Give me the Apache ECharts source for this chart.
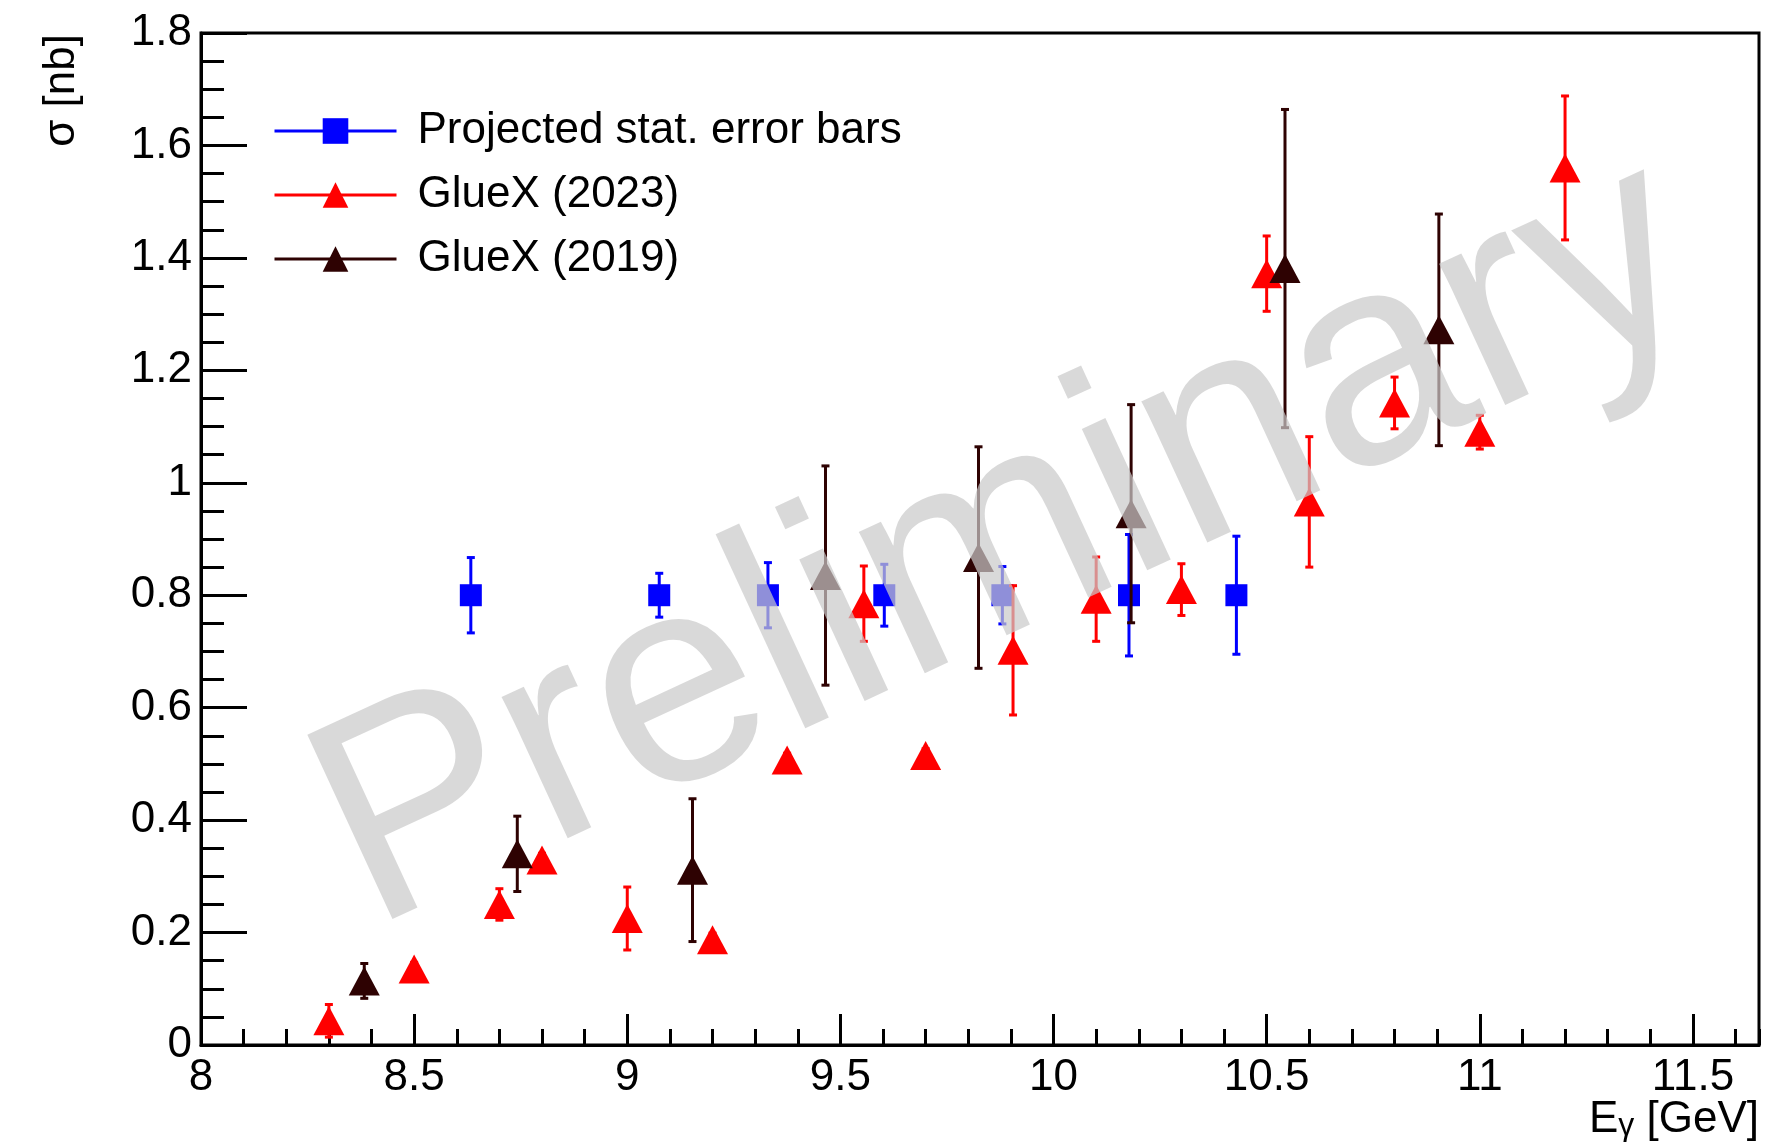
<!DOCTYPE html>
<html>
<head>
<meta charset="utf-8">
<script src="https://cdn.jsdelivr.net/npm/echarts@6/dist/echarts.min.js"></script>
<style>
html,body{margin:0;padding:0;background:#fff;}
#c{width:1773px;height:1148px;}
</style>
</head>
<body>
<div id="c"></div>
<script>
// ---- Data ----
const projX   = [8.633, 9.075, 9.33, 9.603, 9.88, 10.177, 10.429];
const projY   = [0.8, 0.8, 0.8, 0.8, 0.8, 0.8, 0.8];
const projErr = [0.067, 0.039, 0.058, 0.055, 0.051, 0.108, 0.105];

const g23X   = [8.3, 8.5, 8.7, 8.8, 9.0, 9.2, 9.375, 9.555, 9.7, 9.905, 10.1, 10.3, 10.5, 10.6, 10.8, 11.0, 11.2];
const g23Y   = [0.043, 0.135, 0.25, 0.329, 0.225, 0.187, 0.507, 0.785, 0.515, 0.702, 0.793, 0.81, 1.372, 0.966, 1.142, 1.09, 1.56];
const g23Err = [0.029, 0.012, 0.028, 0.012, 0.056, 0.012, 0.012, 0.067, 0.012, 0.115, 0.075, 0.046, 0.067, 0.116, 0.046, 0.03, 0.128];

const g19X   = [8.383, 8.742, 9.153, 9.465, 9.824, 10.182, 10.543, 10.904];
const g19Y   = [0.114, 0.34, 0.311, 0.835, 0.867, 0.945, 1.381, 1.272];
const g19Err = [0.031, 0.067, 0.127, 0.195, 0.197, 0.194, 0.283, 0.206];

const seriesNames = ['Projected stat. error bars', 'GlueX (2023)', 'GlueX (2019)'];
const xTitle = 'E';
const xTitleSub = 'γ';
const xTitleUnit = ' [GeV]';
const yTitle = 'σ [nb]';
const watermark = 'Preliminary';

// ---- Build ----
const FONT = '"Liberation Sans", Arial, Helvetica, sans-serif';
const BLUE = '#0000ff', RED = '#ff0000', BROWN = '#2e0202';

function pts(xs, ys) { return xs.map((x, i) => [x, ys[i]]); }
function errs(xs, ys, es) { return xs.map((x, i) => [x, ys[i] - es[i], ys[i] + es[i]]); }

function errRender(color, cap, lw) {
  return function (params, api) {
    const x = api.value(0), lo = api.value(1), hi = api.value(2);
    const a = api.coord([x, lo]), b = api.coord([x, hi]);
    const st = { stroke: color, lineWidth: lw };
    return {
      type: 'group',
      children: [
        { type: 'line', shape: { x1: a[0], y1: a[1], x2: b[0], y2: b[1] }, style: st },
        { type: 'line', shape: { x1: a[0] - cap, y1: a[1], x2: a[0] + cap, y2: a[1] }, style: st },
        { type: 'line', shape: { x1: b[0] - cap, y1: b[1], x2: b[0] + cap, y2: b[1] }, style: st }
      ]
    };
  };
}

function errSeries(xs, ys, es, color, z, lw) {
  return {
    type: 'custom', silent: true, z: z,
    xAxisIndex: 0, yAxisIndex: 0,
    renderItem: errRender(color, 4, lw),
    encode: { x: 0, y: [1, 2] },
    data: errs(xs, ys, es)
  };
}
function markSeries(name, xs, ys, color, symbol, size, z) {
  return {
    name: name, type: 'line', z: z,
    xAxisIndex: 0, yAxisIndex: 0,
    data: pts(xs, ys),
    symbol: symbol, symbolSize: size, showSymbol: true,
    itemStyle: { color: color, opacity: 1 },
    lineStyle: { color: color, width: 0, opacity: 0 },
    emphasis: { disabled: true },
    silent: true
  };
}

const chart = echarts.init(document.getElementById('c'), null, { renderer: 'canvas' });

const axisLineStyle = { color: '#000', width: 3 };
const XMIN = 8, XMAX = 11.655, YMIN = 0, YMAX = 1.8;

const option = {
  animation: false,
  backgroundColor: '#fff',
  grid: { left: 201, right: 14, top: 33, bottom: 103, show: true, borderColor: '#000', borderWidth: 3, backgroundColor: 'transparent' },
  xAxis: [
    { type: 'value', min: XMIN, max: XMAX, interval: 0.5, position: 'bottom',
      axisLine: { show: true, lineStyle: axisLineStyle },
      axisTick: { show: true, inside: true, length: 31, lineStyle: { color: '#000', width: 3 } },
      axisLabel: { show: true, margin: 11, color: '#000', fontSize: 44, fontFamily: FONT, showMaxLabel: false },
      splitLine: { show: false } },
    { type: 'value', min: XMIN, max: XMAX, interval: 0.1, position: 'bottom',
      axisLine: { show: false },
      axisTick: { show: true, inside: true, length: 16, lineStyle: { color: '#000', width: 3 } },
      axisLabel: { show: false }, splitLine: { show: false } }
  ],
  yAxis: [
    { type: 'value', min: YMIN, max: YMAX, interval: 0.2, position: 'left',
      axisLine: { show: true, lineStyle: axisLineStyle },
      axisTick: { show: true, inside: true, length: 46, lineStyle: { color: '#000', width: 3 } },
      axisLabel: { show: true, margin: 9, color: '#000', fontSize: 44, fontFamily: FONT },
      splitLine: { show: false } },
    { type: 'value', min: YMIN, max: YMAX, interval: 0.05, position: 'left',
      axisLine: { show: false },
      axisTick: { show: true, inside: true, length: 23, lineStyle: { color: '#000', width: 3 } },
      axisLabel: { show: false }, splitLine: { show: false } }
  ],
  legend: {
    orient: 'vertical', left: 268, top: 104,
    itemWidth: 122, itemHeight: 32, itemGap: 20,
    selectedMode: false,
    data: seriesNames,
    textStyle: { fontSize: 44, color: '#000', fontFamily: FONT, padding: [0, 0, 0, 16] },
    lineStyle: { width: 3, opacity: 1, color: 'inherit' },
    itemStyle: { opacity: 1 }
  },
  series: [
    errSeries(projX, projY, projErr, BLUE, 2, 3),
    markSeries(seriesNames[0], projX, projY, BLUE, 'rect', [22, 22], 3),
    errSeries(g23X, g23Y, g23Err, RED, 4, 3),
    markSeries(seriesNames[1], g23X, g23Y, RED, 'triangle', [31, 29], 5),
    errSeries(g19X, g19Y, g19Err, BROWN, 6, 3),
    markSeries(seriesNames[2], g19X, g19Y, BROWN, 'triangle', [31, 29], 7)
  ],
  graphic: [
    { type: 'text', z: 100, silent: true,
      x: 1006, y: 546, rotation: 24.8 * Math.PI / 180,
      style: { text: watermark, font: '295px ' + FONT, fill: 'rgba(201,201,201,0.71)', textAlign: 'center', textVerticalAlign: 'middle' } },
    { type: 'text', z: 50, silent: true,
      x: 62, y: 34, rotation: Math.PI / 2,
      style: { text: yTitle, font: '44px ' + FONT, fill: '#000', textAlign: 'right', textVerticalAlign: 'middle' } },
    { type: 'text', z: 50, silent: true,
      right: 14, top: 1098,
      style: {
        text: '{a|' + xTitle + '}{s|' + xTitleSub + '}{a|' + xTitleUnit + '}',
        fill: '#000',
        rich: {
          a: { fontSize: 44, fontFamily: FONT, lineHeight: 52, verticalAlign: 'bottom', fill: '#000' },
          s: { fontSize: 32, fontFamily: FONT, lineHeight: 24, verticalAlign: 'bottom', fill: '#000' }
        }
      } }
  ]
};
chart.setOption(option);
</script>
</body>
</html>
